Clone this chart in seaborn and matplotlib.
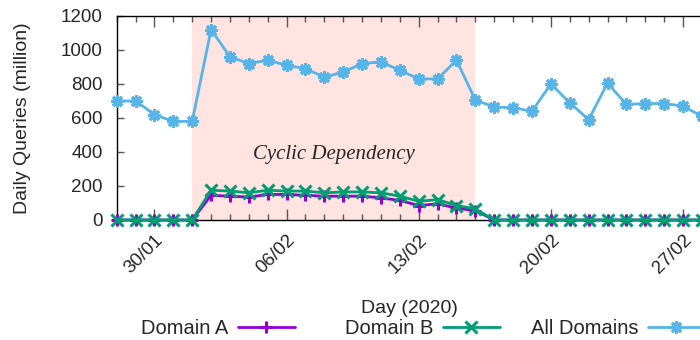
import matplotlib
matplotlib.use("Agg")
import matplotlib.pyplot as plt
import matplotlib.dates as mdates
import numpy as np
import pandas as pd
import seaborn as sns

# ---- data ----
days = pd.date_range("2020-01-28", "2020-02-28", freq="D")

domain_a = [0, 0, 0, 0, 0,
            145, 140, 135, 150, 150, 145, 140, 140, 140, 130, 115, 85, 95, 70, 55,
            0, 0, 0, 0, 0, 0, 0, 0, 0, 0, 0, 0]
domain_b = [0, 0, 0, 0, 0,
            175, 170, 160, 175, 170, 170, 160, 165, 165, 160, 140, 110, 120, 85, 65,
            0, 0, 0, 0, 0, 0, 0, 0, 0, 0, 0, 0]
all_domains = [700, 700, 620, 580, 580,
               1120, 960, 920, 940, 910, 890, 840, 870, 920, 930, 880, 830, 830, 940, 705,
               665, 660, 640, 800, 690, 590, 805, 680, 685, 685, 670, 610]

shade_start, shade_end = "2020-02-01", "2020-02-16"
note_text = "Cyclic Dependency"
note_pos = ("2020-02-08 12:00", 385)

series = [
    ("Domain A", domain_a, "#9400D3", "+"),
    ("Domain B", domain_b, "#009E73", "x"),
    ("All Domains", all_domains, "#56B4E9", (8, 2, 0)),
]

# ---- style ----
sns.set_style("ticks")
plt.rcParams["font.family"] = ["Liberation Sans", "DejaVu Sans"]
plt.rcParams["font.size"] = 14

fig = plt.figure(figsize=(7, 3.4), dpi=100)
ax = fig.add_axes([0.1667, 0.353, 0.836, 0.600])

ax.axvspan(pd.Timestamp(shade_start), pd.Timestamp(shade_end),
           color="#ffe4e1", lw=0, zorder=0)

for label, vals, color, marker in series:
    sns.lineplot(x=days, y=vals, ax=ax, color=color, lw=2.0,
                 marker=marker, markersize=9, markeredgewidth=2.2,
                 markeredgecolor=color, label=label, clip_on=False, zorder=3)

ax.text(pd.Timestamp(note_pos[0]), note_pos[1], note_text,
        family=["Liberation Serif"], style="italic", fontsize=15,
        ha="center", va="center")

# ---- axes ----
ax.set_xlim(days[0], days[-1])
ax.set_ylim(0, 1200)
ax.set_yticks(np.arange(0, 1201, 200))
ax.xaxis.set_major_locator(mdates.WeekdayLocator(byweekday=mdates.TH))
ax.xaxis.set_minor_locator(mdates.DayLocator())
ax.xaxis.set_major_formatter(mdates.DateFormatter("%d/%m"))

ax.tick_params(axis="both", which="both", direction="in", top=True,
               right=False, color="#555555", width=1, labelsize=13.5)
ax.tick_params(axis="x", which="major", length=8, pad=8)
ax.tick_params(axis="x", which="minor", length=4)
ax.tick_params(axis="y", which="major", length=5, pad=10)
plt.setp(ax.get_xticklabels(), rotation=45, ha="right", va="top",
         rotation_mode="anchor")

for side in ["left", "top", "bottom"]:
    ax.spines[side].set_color("black")
    ax.spines[side].set_linewidth(1)
ax.spines["right"].set_visible(False)

ax.set_ylabel("Daily Queries (million)")
ax.yaxis.set_label_coords(-0.147, 0.5)
ax.set_xlabel("Day (2020)")
ax.xaxis.set_label_coords(0.5, -0.39)

# gnuplot-style key: fixed-width columns, text right-aligned before the sample
handles, labels = ax.get_legend_handles_labels()
ax.get_legend().remove()
col_right = [295 / 700, 500 / 700, 705 / 700]
for h, l, xr in zip(handles, labels, col_right):
    fig.legend([h], [l], loc="center right", bbox_to_anchor=(xr, 0.035),
               frameon=False, markerfirst=False, fontsize=14.5,
               handlelength=2.85, handletextpad=0.45,
               borderpad=0, borderaxespad=0)

fig.savefig("out.png", dpi=100)
